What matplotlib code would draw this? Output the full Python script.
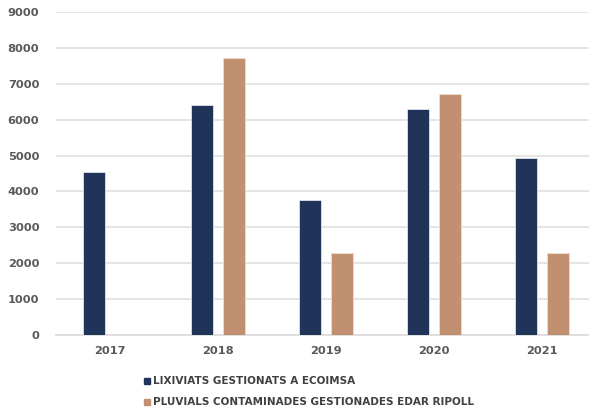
import matplotlib
matplotlib.use("Agg")
import matplotlib.pyplot as plt
import numpy as np
from matplotlib.lines import Line2D

years = ["2017", "2018", "2019", "2020", "2021"]
lixiviats = [4530, 6410, 3750, 6300, 4920]
pluvials = [0, 7720, 2290, 6720, 2290]
series_names = ["LIXIVIATS GESTIONATS A ECOIMSA",
                "PLUVIALS CONTAMINADES GESTIONADES EDAR RIPOLL"]
colors = ["#203359", "#C09070"]

fig = plt.figure(figsize=(5.89, 4.17), dpi=100)
ax = fig.add_axes([56/589, 1-335/417, 540/589, (335-12)/417])

x = np.arange(len(years))
w = 0.205
off = 0.145
ax.bar(x - off, lixiviats, w, color=colors[0], edgecolor="#dfe3ea", linewidth=0.6, zorder=3)
ax.bar(x + off, pluvials, w, color=colors[1], edgecolor="#f0dccd", linewidth=0.6, zorder=3)

ax.set_xlim(-0.5, len(years) - 0.5)
ax.set_ylim(0, 9000)
ax.set_yticks(range(0, 9001, 1000))
ax.yaxis.grid(True, color="#e0e0e0", linewidth=1.2, zorder=0)
ax.set_axisbelow(True)
for s in ax.spines.values():
    s.set_visible(False)
ax.spines["bottom"].set_visible(True)
ax.spines["bottom"].set_color("#d9d9d9")
ax.spines["bottom"].set_linewidth(1.2)
ax.tick_params(axis="both", length=0, labelsize=8.2, labelcolor="#595959")
ax.tick_params(axis="y", pad=12)
ax.tick_params(axis="x", pad=8)
ax.set_xticks(x)
ax.set_xticklabels(years)
for lbl in ax.get_xticklabels() + ax.get_yticklabels():
    lbl.set_fontweight("bold")

handles = [Line2D([], [], marker="s", linestyle="none", markersize=5, color=c) for c in colors]
fig.legend(handles, series_names, loc="upper left", bbox_to_anchor=(132/589, 1-367/417),
           frameon=False, labelcolor="#404040", handletextpad=0.1,
           labelspacing=1.05, prop={"weight": "bold", "size": 7.5}, handlelength=1.0)

fig.savefig("out.png", dpi=100)
